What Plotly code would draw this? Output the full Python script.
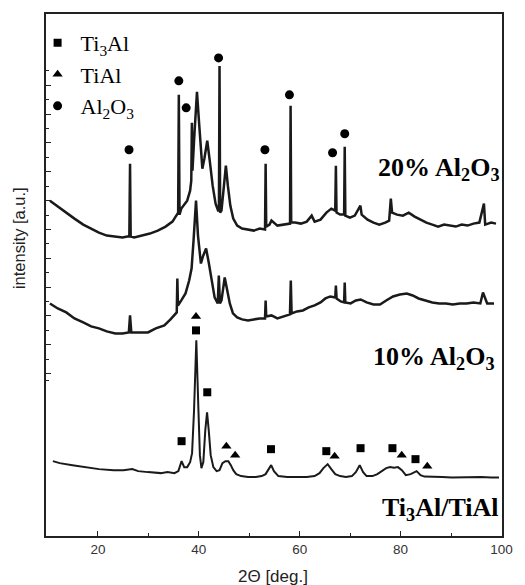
import plotly.graph_objects as go

# ---- XRD patterns: 2-theta (deg) and intensity (a.u., offset stacked) ----
tt_20 = [10.48, 12.03, 13.59, 15.34, 17.08, 18.64, 20.19, 21.75, 23.30, 24.86, 25.83,
         26.22, 26.36, 26.49, 27.19, 28.75, 30.30, 31.86, 33.41, 34.77, 35.55, 35.90,
         36.03, 36.17, 36.52, 36.91, 37.69, 38.27, 38.50, 38.62, 38.74, 39.05, 39.63,
         40.02, 40.41, 40.70, 41.09, 41.67, 42.16, 42.74, 43.32, 43.81, 43.98, 44.10,
         44.22, 44.49, 44.88, 45.36, 45.75, 46.24, 46.82, 47.60, 48.57, 49.74, 50.90,
         52.07, 52.94, 53.12, 53.24, 53.36, 54.01, 54.40, 55.57, 56.73, 57.90, 58.08,
         58.19, 58.31, 59.07, 60.23, 61.40, 62.37, 62.95, 64.12, 65.29, 66.26, 67.04,
         67.17, 67.29, 68.01, 68.80, 68.92, 69.04, 69.95, 70.92, 72.03, 72.28, 73.45,
         74.62, 75.78, 76.95, 77.73, 78.06, 78.31, 79.28, 80.45, 81.61, 82.78, 83.95,
         85.11, 86.28, 87.44, 88.61, 89.78, 90.94, 92.11, 93.27, 94.44, 95.61, 96.52,
         96.77, 97.94, 98.91]
int_20 = [336, 330, 324, 318, 312, 308, 304, 301, 300, 299, 300,
          300, 373, 300, 299, 301, 303, 306, 310, 315, 321, 324,
          442, 322, 328, 331, 336, 346, 356, 414, 366, 396, 445,
          416, 386, 368, 378, 396, 376, 351, 333, 326, 326, 471,
          324, 326, 346, 371, 351, 331, 318, 311, 308, 307, 306,
          308, 307, 307, 373, 310, 312, 316, 311, 312, 313, 313,
          431, 314, 314, 313, 315, 321, 315, 317, 324, 328, 326,
          371, 324, 322, 322, 390, 321, 319, 321, 331, 322, 317,
          314, 312, 314, 316, 338, 324, 322, 321, 324, 320, 317,
          314, 312, 310, 312, 311, 310, 312, 311, 313, 314, 333,
          312, 314, 313]

tt_10 = [10.48, 12.03, 13.72, 15.34, 17.08, 18.64, 20.19, 21.75, 23.44, 24.86, 26.12,
         26.36, 26.61, 27.97, 29.91, 31.47, 33.16, 34.38, 35.41, 35.62, 35.74, 35.86,
         36.52, 37.36, 38.08, 38.56, 38.95, 39.44, 39.83, 40.21, 40.41, 40.80, 41.44,
         41.96, 42.55, 43.13, 43.75, 43.96, 44.18, 44.49, 45.13, 45.66, 46.14, 46.76,
         47.60, 48.57, 49.74, 50.90, 52.07, 53.12, 53.24, 53.36, 54.40, 55.57, 56.73,
         58.06, 58.23, 58.39, 59.46, 60.62, 61.79, 62.95, 64.12, 65.09, 66.06, 67.04,
         67.17, 67.31, 68.14, 68.80, 68.92, 69.04, 70.09, 71.12, 72.09, 73.26, 74.62,
         75.92, 77.14, 78.50, 79.86, 81.22, 82.39, 83.56, 84.92, 86.28, 87.64, 89.00,
         90.36, 91.72, 93.09, 94.44, 95.80, 96.33, 97.16, 98.52]
int_10 = [233, 228, 224, 218, 214, 210, 208, 205, 203, 203, 204,
          221, 204, 204, 204, 208, 211, 217, 223, 224, 258, 231,
          236, 243, 256, 268, 296, 336, 301, 278, 273, 280, 288,
          274, 254, 239, 233, 261, 233, 236, 259, 246, 233, 223,
          219, 217, 216, 217, 218, 218, 236, 220, 221, 218, 220,
          222, 256, 223, 225, 226, 229, 231, 234, 238, 240, 239,
          251, 238, 235, 234, 254, 234, 233, 236, 237, 234, 232,
          232, 236, 240, 242, 243, 241, 238, 236, 234, 233, 233,
          232, 233, 233, 234, 233, 244, 233, 233]

tt_0 = [11.06, 12.42, 14.95, 17.28, 20.19, 23.11, 25.05, 26.80, 27.97, 29.91, 32.44,
        33.80, 35.16, 35.94, 36.58, 37.10, 37.69, 38.27, 38.66, 39.05, 39.50, 39.92,
        40.21, 40.51, 40.89, 41.28, 41.63, 41.96, 42.35, 42.88, 43.52, 44.10, 44.68,
        45.27, 45.85, 46.34, 46.82, 47.41, 48.38, 49.74, 51.29, 52.46, 53.24, 53.72,
        54.34, 54.89, 55.76, 57.51, 59.46, 61.40, 62.95, 63.92, 64.70, 65.54, 66.26,
        67.04, 68.01, 69.17, 70.34, 71.12, 71.89, 72.57, 73.25, 74.42, 75.39, 76.17,
        77.14, 77.92, 78.70, 79.47, 80.25, 81.03, 82.00, 83.17, 83.95, 84.72, 86.28,
        88.22, 90.17, 92.11, 94.05, 96.00, 97.94, 99.50]
int_0 = [75, 73, 71, 69, 67, 66, 66, 67, 65, 64, 63,
         64, 63, 65, 75, 69, 69, 74, 83, 126, 196, 126,
         81, 68, 74, 106, 124, 106, 81, 69, 65, 66, 73,
         75, 75, 71, 66, 62, 60, 59, 59, 60, 62, 66,
         71, 65, 60, 59, 59, 59, 60, 63, 68, 72, 67,
         62, 60, 59, 60, 64, 71, 64, 60, 60, 62, 65,
         68, 69, 68.5, 69, 66, 61, 62, 65, 61, 59.5, 59,
         59, 58.7, 59, 58.7, 59, 58.7, 58.7]

# ---- phase markers (2-theta, vertical position) ----
ti3al_tt = [39.44, 36.58, 41.67, 54.30, 65.27, 72.06, 78.38, 82.95]
ti3al_y = [206, 95, 144, 87, 85, 88, 88, 77]
tial_tt = [39.44, 45.46, 47.20, 66.92, 80.22, 85.29]
tial_y = [220, 90, 81, 80, 81, 70]
al2o3_tt = [26.16, 36.03, 37.49, 43.91, 53.10, 57.96, 66.51, 68.92]
al2o3_y = [387, 456, 429, 479, 387, 442, 384, 403]

# y-axis tick positions (unlabelled)
ytick_major = [451.7, 422.8, 393.9, 365.0, 336.1, 307.2, 278.3, 249.4, 220.5, 191.6, 162.7]
ytick_minor = [466.0, 437.1, 408.2, 379.3, 350.4, 321.5, 292.6, 263.7, 234.8, 205.9, 177.0, 156.0]
xtick_major = [20, 40, 60, 80, 100]
xtick_minor = [30, 50, 70, 90]

SERIF = "Liberation Serif, Times New Roman, serif"
SANS = "Liberation Sans, Arial, sans-serif"

fig = go.Figure()
for tt, it, w in [(tt_20, int_20, 2.5), (tt_10, int_10, 2.5), (tt_0, int_0, 2.0)]:
    fig.add_trace(go.Scatter(x=tt, y=it, mode="lines", showlegend=False,
                             line=dict(color="#1a1a1a", width=w), hoverinfo="skip"))

fig.add_trace(go.Scatter(x=ti3al_tt, y=ti3al_y, mode="markers", name="Ti<sub>3</sub>Al",
                         marker=dict(symbol="square", size=8, color="black")))
fig.add_trace(go.Scatter(x=tial_tt, y=tial_y, mode="markers", name="TiAl",
                         marker=dict(symbol="triangle-up", size=9, color="black")))
fig.add_trace(go.Scatter(x=al2o3_tt, y=al2o3_y, mode="markers", name="Al<sub>2</sub>O<sub>3</sub>",
                         marker=dict(symbol="circle", size=9, color="black")))

ann = [
    dict(text="<b>20% Al<sub>2</sub>O<sub>3</sub></b>", x=0.862, y=0.7036),
    dict(text="<b>10% Al<sub>2</sub>O<sub>3</sub></b>", x=0.851, y=0.3403),
    dict(text="<b>Ti<sub>3</sub>Al/TiAl</b>", x=0.8645, y=0.052),
]
for a in ann:
    fig.add_annotation(text=a["text"], x=a["x"], y=a["y"], xref="paper", yref="paper",
                       showarrow=False, xanchor="center", yanchor="middle",
                       font=dict(family=SERIF, size=26, color="black"))

fig.add_annotation(text="intensity [a.u.]", x=-0.0602, y=0.5698, xref="paper", yref="paper",
                   textangle=-90, showarrow=False, xanchor="center", yanchor="middle",
                   font=dict(family=SANS, size=16.5, color="#222"))
fig.add_annotation(text="2\u0398 [deg.]", x=0.4968, y=-0.0784, xref="paper", yref="paper",
                   showarrow=False, xanchor="center", yanchor="middle",
                   font=dict(family=SANS, size=17, color="#222"))

fig.update_layout(
    width=525, height=585,
    margin=dict(l=46, r=14, t=13, b=49),
    paper_bgcolor="white", plot_bgcolor="white",
    showlegend=True,
    legend=dict(x=-0.025, y=0.985, xanchor="left", yanchor="top",
                bgcolor="rgba(0,0,0,0)", font=dict(family=SERIF, size=22, color="black"),
                tracegroupgap=0, itemwidth=36),
)
fig.update_xaxes(range=[9.7, 100.1], showgrid=False, zeroline=False,
                 showline=True, linecolor="#222", linewidth=1.6, mirror=True,
                 ticks="inside", ticklen=5, tickwidth=1, tickcolor="#222",
                 tickmode="array", tickvals=xtick_major,
                 ticktext=[str(v) for v in xtick_major],
                 tickfont=dict(family=SANS, size=13.5, color="#333"),
                 minor=dict(tickmode="array", tickvals=xtick_minor, ticks="inside",
                            ticklen=3, tickcolor="#222"))
fig.update_yaxes(range=[0, 523], showgrid=False, zeroline=False,
                 showline=True, linecolor="#222", linewidth=1.6, mirror=True,
                 ticks="inside", ticklen=5, tickwidth=1, tickcolor="#222",
                 tickmode="array", tickvals=ytick_major, showticklabels=False,
                 minor=dict(tickmode="array", tickvals=ytick_minor, ticks="inside",
                            ticklen=3, tickcolor="#222"))

fig.write_html("out.html", config={"displayModeBar": False},
               post_script="document.body.style.margin='0px';")
